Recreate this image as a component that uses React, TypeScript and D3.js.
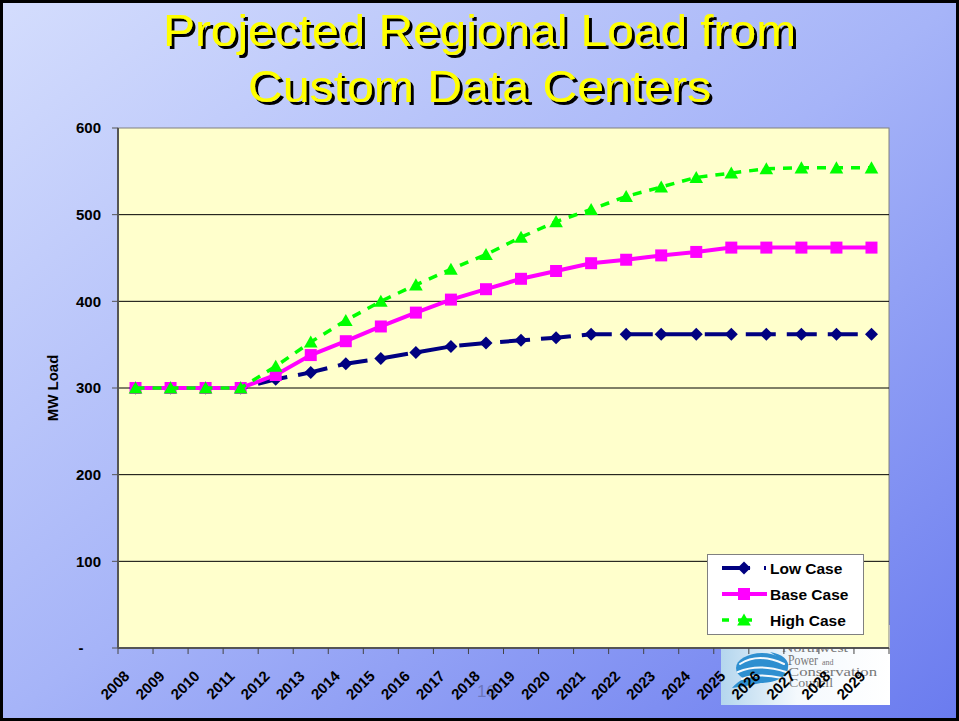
import React from "react";
import * as d3 from "d3";

const years = [
  "2008", "2009", "2010", "2011", "2012", "2013", "2014", "2015", "2016", "2017", "2018",
  "2019", "2020", "2021", "2022", "2023", "2024", "2025", "2026", "2027", "2028", "2029",
];
const lowCase = [300, 300, 300, 300, 310, 318, 328, 334, 341, 348, 352, 355, 358, 362, 362, 362, 362, 362, 362, 362, 362, 362];
const baseCase = [300, 300, 300, 300, 315, 338, 354, 371, 387, 402, 414, 426, 435, 444, 448, 453, 457, 462, 462, 462, 462, 462];
const highCase = [300, 300, 300, 300, 325, 353, 378, 400, 419, 437, 454, 474, 492, 506, 521, 532, 543, 548, 553, 554, 554, 554];
const yTicks = [0, 100, 200, 300, 400, 500, 600];
const titleLines = ["Projected Regional Load from", "Custom Data Centers"];

const W = 959;
const H = 721;
const font = "'Liberation Sans', Arial, sans-serif";

const diamond = (s: number) => `M0,${-s}L${s},0L0,${s}L${-s},0Z`;
const square = (s: number) => `M${-s},${-s}H${s}V${s}H${-s}Z`;
const triangle = (s: number) => `M0,${-s}L${s * 1.05},${s * 0.85}L${-s * 1.05},${s * 0.85}Z`;

const series = [
  { name: "Low Case", values: lowCase, color: "#000080", width: 4, dash: "30,11", marker: diamond(6.5) },
  { name: "Base Case", values: baseCase, color: "#ff00ff", width: 4, dash: "", marker: square(6) },
  { name: "High Case", values: highCase, color: "#00ff00", width: 3.5, dash: "9,8", marker: triangle(6.5) },
];

export default function App() {
  const left = 118, right = 889, top = 128, bottom = 648;
  const x = d3.scaleBand<string>().domain(years).range([left, right]).padding(0);
  const y = d3.scaleLinear().domain([0, 600]).range([bottom, top]);
  const cx = (d: string) => (x(d) as number) + x.bandwidth() / 2;

  const line = d3
    .line<number>()
    .x((_, i) => cx(years[i]))
    .y((v) => y(v));

  const xTickPos = d3.range(years.length + 1).map((i) => left + i * x.step());

  return (
    <svg
      width={W}
      height={H}
      style={{ position: "absolute", left: 0, top: 0, display: "block" }}
      fontFamily={font}
    >
      <defs>
        <linearGradient id="bg" x1="0" y1="0" x2="1" y2="1">
          <stop offset="0" stopColor="#d4ddfd" />
          <stop offset="0.5" stopColor="#a6b4f8" />
          <stop offset="1" stopColor="#6a7bef" />
        </linearGradient>
        <linearGradient id="logo" x1="0" y1="0" x2="1" y2="0">
          <stop offset="0" stopColor="#b4d6ee" />
          <stop offset="0.45" stopColor="#f4f9fd" />
          <stop offset="1" stopColor="#ffffff" />
        </linearGradient>
        <filter id="shadow" x="-5%" y="-20%" width="110%" height="150%">
          <feOffset in="SourceAlpha" dx="2.5" dy="2.5" result="off" />
          <feFlood floodColor="#000" />
          <feComposite in2="off" operator="in" result="sh" />
          <feMerge>
            <feMergeNode in="sh" />
            <feMergeNode in="SourceGraphic" />
          </feMerge>
        </filter>
      </defs>

      <rect x={0} y={0} width={W} height={H} fill="url(#bg)" />
      <rect x={1.5} y={1.5} width={W - 3} height={H - 3} fill="none" stroke="#000" strokeWidth={3} />

      {/* title */}
      <g filter="url(#shadow)">
        {titleLines.map((t, i) => (
          <text
            key={t}
            x={W / 2}
            y={46 + i * 56}
            textAnchor="middle"
            fontSize={45}
            fill="#ffff00"
            textLength={i === 0 ? 633 : 463}
            lengthAdjust="spacingAndGlyphs"
          >
            {t}
          </text>
        ))}
      </g>

      {/* slide number */}
      <text x={477} y={697} fontSize={17} fill="#6c76bc">16</text>

      {/* logo */}
      <g>
        <rect x={721} y={625} width={169} height={80} fill="url(#logo)" />
        <ellipse cx={762} cy={668} rx={26} ry={15} fill="#2e8fd0" />
        <path d="M732,688 C742,676 756,674 770,680 C760,684 748,686 732,688Z" fill="#2e8fd0" />
        <path d="M770,652 C782,654 790,660 788,668 C784,662 778,657 770,652Z" fill="#2e8fd0" />
        <g fill="none" stroke="#f4f9fd" strokeWidth={2} strokeLinecap="round">
          <path d="M740,664 C752,656 768,656 784,664" />
          <path d="M738,672 C752,666 768,666 786,672" />
          <path d="M742,679 C754,674 768,675 782,678" />
        </g>
        <g fill="#777" fontFamily="'Liberation Serif', 'DejaVu Serif', serif">
          <text x={782} y={652} fontSize={13} textLength={66} lengthAdjust="spacingAndGlyphs">Northwest</text>
          <text x={788} y={665} fontSize={14} textLength={30} lengthAdjust="spacingAndGlyphs">Power</text>
          <text x={822} y={665} fontSize={8}>and</text>
          <text x={788} y={676} fontSize={13} textLength={89} lengthAdjust="spacingAndGlyphs">Conservation</text>
          <text x={789} y={687} fontSize={13} textLength={44} lengthAdjust="spacingAndGlyphs">Council</text>
        </g>
      </g>

      {/* plot area */}
      <rect x={left} y={top} width={right - left} height={bottom - top} fill="#ffffcc" stroke="#808080" strokeWidth={1} />
      {yTicks
        .filter((t) => t > 0 && t < 600)
        .map((t) => (
          <line key={t} x1={left} x2={right} y1={y(t)} y2={y(t)} stroke="#000" strokeWidth={1} />
        ))}

      {/* axes */}
      <line x1={left} x2={left} y1={top} y2={bottom} stroke="#555" strokeWidth={2} />
      <line x1={left} x2={right} y1={bottom} y2={bottom} stroke="#555" strokeWidth={2} />
      {yTicks.map((t) => (
        <line key={t} x1={left - 6} x2={left} y1={y(t)} y2={y(t)} stroke="#555" strokeWidth={1} />
      ))}
      {xTickPos.map((p, i) => (
        <line key={i} x1={p} x2={p} y1={bottom} y2={bottom + 6} stroke="#444" strokeWidth={1} />
      ))}
      {yTicks.map((t) => (
        <text
          key={t}
          x={t === 0 ? 81 : 101}
          y={y(t)}
          dy="0.35em"
          textAnchor={t === 0 ? "middle" : "end"}
          fontSize={15}
          fontWeight="bold"
          fill="#000"
        >
          {t === 0 ? "-" : t}
        </text>
      ))}
      <text
        transform={`translate(58,${(top + bottom) / 2}) rotate(-90)`}
        textAnchor="middle"
        fontSize={15}
        fontWeight="bold"
        fill="#000"
      >
        MW Load
      </text>
      {years.map((yr) => (
        <text
          key={yr}
          transform={`translate(${cx(yr) - 5},${bottom + 29}) rotate(-45)`}
          textAnchor="end"
          fontSize={15}
          fontWeight="bold"
          fill="#000"
        >
          {yr}
        </text>
      ))}

      {/* series */}
      {series.map((s) => (
        <g key={s.name}>
          <path
            d={line(s.values) as string}
            fill="none"
            stroke={s.color}
            strokeWidth={s.width}
            strokeDasharray={s.dash || undefined}
          />
          {s.values.map((v, i) => (
            <path key={i} d={s.marker} transform={`translate(${cx(years[i])},${y(v)})`} fill={s.color} />
          ))}
        </g>
      ))}

      {/* legend */}
      <g>
        <rect x={707.5} y={554.5} width={156} height={80} fill="#fff" stroke="#808080" strokeWidth={1} />
        {series.map((s, i) => {
          const ly = 568 + i * 26;
          return (
            <g key={s.name}>
              {s.name === "Low Case" ? (
                <g>
                  <line x1={722} x2={750} y1={ly} y2={ly} stroke={s.color} strokeWidth={s.width} />
                  <line x1={764} x2={766} y1={ly} y2={ly} stroke={s.color} strokeWidth={s.width} />
                </g>
              ) : s.name === "High Case" ? (
                <g>
                  <line x1={722} x2={729} y1={ly} y2={ly} stroke={s.color} strokeWidth={s.width} />
                  <line x1={738} x2={752} y1={ly} y2={ly} stroke={s.color} strokeWidth={s.width} />
                </g>
              ) : (
                <line x1={722} x2={767} y1={ly} y2={ly} stroke={s.color} strokeWidth={s.width} />
              )}
              <path d={s.marker} transform={`translate(744,${ly})`} fill={s.color} />
              <text x={770} y={ly} dy="0.36em" fontSize={15.5} fontWeight="bold" fill="#000">
                {s.name}
              </text>
            </g>
          );
        })}
      </g>
    </svg>
  );
}
